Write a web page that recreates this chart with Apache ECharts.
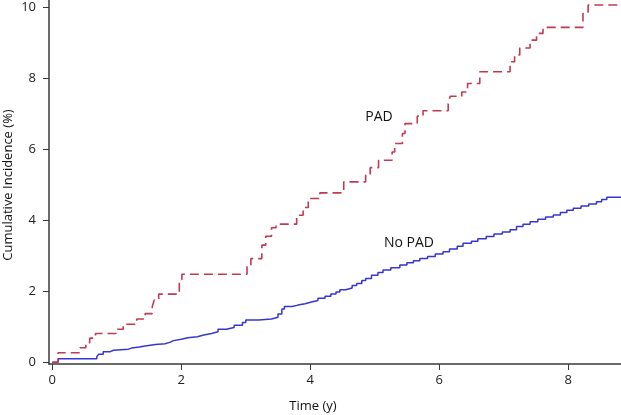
<!DOCTYPE html>
<html>
<head>
<meta charset="utf-8">
<script src="https://cdn.jsdelivr.net/npm/echarts@6/dist/echarts.min.js"></script>
<style>
html,body{margin:0;padding:0;background:#fff;}
#c{width:621px;height:415px;}
</style>
</head>
<body>
<div id="c"></div>
<script>
// Time (years) at which each cumulative incidence step begins, value in %
const padTimes  = [0, 0.09, 0.43, 0.52, 0.58, 0.67, 0.99, 1.10, 1.31, 1.44, 1.55, 1.58, 1.65, 1.97, 2.01, 3.02, 3.08, 3.25, 3.31, 3.40, 3.47, 3.79, 3.89, 3.97, 4.15, 4.52, 4.86, 4.93, 5.06, 5.27, 5.31, 5.43, 5.47, 5.66, 5.75, 6.14, 6.17, 6.35, 6.44, 6.63, 7.10, 7.17, 7.25, 7.41, 7.51, 7.61, 8.23, 8.31, 8.82];
const padValues = [0, 0.27, 0.41, 0.55, 0.68, 0.81, 0.93, 1.07, 1.22, 1.37, 1.56, 1.75, 1.92, 2.33, 2.48, 2.70, 2.92, 3.30, 3.55, 3.79, 3.89, 4.14, 4.36, 4.61, 4.77, 5.08, 5.27, 5.48, 5.69, 5.92, 6.16, 6.44, 6.72, 6.93, 7.08, 7.28, 7.49, 7.61, 7.85, 8.18, 8.46, 8.65, 8.85, 9.07, 9.26, 9.43, 9.82, 10.06, 10.06];

const noPadTimes  = [0, 0.09, 0.69, 0.72, 0.79, 0.90, 0.95, 1.18, 1.23, 1.35, 1.44, 1.60, 1.75, 1.82, 1.88, 2.00, 2.10, 2.25, 2.35, 2.47, 2.57, 2.70, 2.82, 2.95, 3.00, 3.20, 3.40, 3.50, 3.56, 3.60, 3.72, 3.81, 3.92, 4.02, 4.12, 4.23, 4.32, 4.40, 4.46, 4.55, 4.65, 4.72, 4.80, 4.86, 4.95, 5.05, 5.13, 5.25, 5.39, 5.50, 5.60, 5.70, 5.82, 5.94, 6.06, 6.16, 6.28, 6.37, 6.50, 6.60, 6.73, 6.85, 6.98, 7.10, 7.20, 7.30, 7.41, 7.53, 7.65, 7.77, 7.88, 7.98, 8.08, 8.20, 8.32, 8.44, 8.52, 8.60, 8.82];
const noPadValues = [0, 0.10, 0.16, 0.23, 0.30, 0.34, 0.37, 0.40, 0.43, 0.46, 0.50, 0.52, 0.56, 0.61, 0.65, 0.69, 0.72, 0.77, 0.81, 0.86, 0.93, 0.98, 1.04, 1.12, 1.19, 1.22, 1.27, 1.36, 1.50, 1.57, 1.61, 1.65, 1.70, 1.74, 1.80, 1.86, 1.92, 1.98, 2.04, 2.09, 2.16, 2.22, 2.30, 2.36, 2.45, 2.53, 2.60, 2.66, 2.74, 2.80, 2.86, 2.92, 2.98, 3.05, 3.11, 3.19, 3.27, 3.35, 3.41, 3.48, 3.54, 3.61, 3.67, 3.73, 3.82, 3.89, 3.96, 4.03, 4.09, 4.15, 4.22, 4.28, 4.34, 4.40, 4.46, 4.52, 4.58, 4.65, 4.65];

const xTicks = [0, 2, 4, 6, 8];
const yTicks = [0, 2, 4, 6, 8, 10];
const seriesLabels = ['PAD', 'No PAD'];
const xTitle = 'Time (y)';
const yTitle = 'Cumulative Incidence (%)';

const FONT = '"Open Sans", "Noto Sans", sans-serif';
const pairs = (a, b) => a.map((t, i) => [t, b[i]]);

const chart = echarts.init(document.getElementById('c'), null, {renderer: 'canvas'});
chart.setOption({
  animation: false,
  backgroundColor: '#ffffff',
  grid: {left: 49, right: 0, top: 0, bottom: 51, containLabel: false},
  xAxis: {
    type: 'value', min: -0.051, max: 8.82,
    axisLine: {show: true, onZero: false, lineStyle: {color: '#3a3a3a', width: 1.5}},
    axisTick: {show: true, customValues: xTicks, length: 6, lineStyle: {color: '#3a3a3a', width: 1}},
    axisLabel: {customValues: xTicks, color: '#222', fontSize: 13, fontFamily: FONT, margin: 10},
    splitLine: {show: false}
  },
  yAxis: {
    type: 'value', min: -0.048, max: 10.2,
    axisLine: {show: true, onZero: false, lineStyle: {color: '#3a3a3a', width: 1.5}},
    axisTick: {show: true, customValues: yTicks, length: 6, lineStyle: {color: '#3a3a3a', width: 1}},
    axisLabel: {customValues: yTicks, color: '#222', fontSize: 13, fontFamily: FONT, margin: 13},
    splitLine: {show: false}
  },
  series: [
    {
      name: seriesLabels[0], type: 'line', step: 'end', showSymbol: false,
      data: pairs(padTimes, padValues),
      lineStyle: {color: '#c23a52', width: 1.6, type: [9, 5]},
      z: 3
    },
    {
      name: seriesLabels[1], type: 'line', step: 'end', showSymbol: false,
      data: pairs(noPadTimes, noPadValues),
      lineStyle: {color: '#3636d2', width: 1.5},
      z: 2
    }
  ],
  graphic: [
    {type: 'text', x: 379, y: 117, style: {text: seriesLabels[0], font: '14px ' + FONT, fill: '#111', textAlign: 'center', textVerticalAlign: 'middle'}},
    {type: 'text', x: 409, y: 243, style: {text: seriesLabels[1], font: '14px ' + FONT, fill: '#111', textAlign: 'center', textVerticalAlign: 'middle'}},
    {type: 'text', x: 313, y: 406, style: {text: xTitle, font: '13px ' + FONT, fill: '#111', textAlign: 'center', textVerticalAlign: 'middle'}},
    {type: 'text', x: 8, y: 185, rotation: Math.PI / 2, style: {text: yTitle, font: '13px ' + FONT, fill: '#111', textAlign: 'center', textVerticalAlign: 'middle'}}
  ]
});
</script>
</body>
</html>
